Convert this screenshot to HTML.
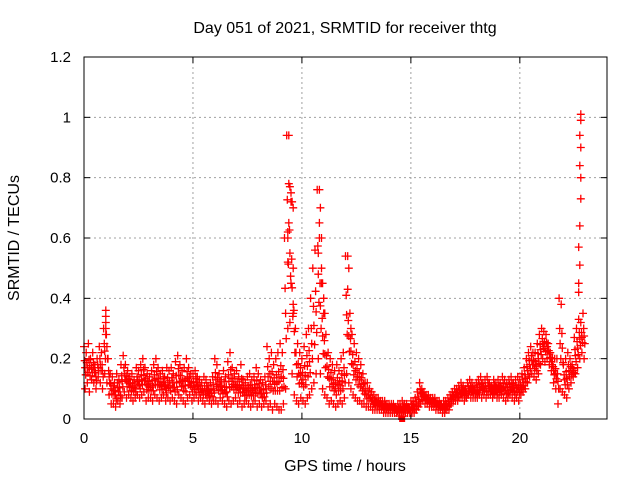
<!DOCTYPE html>
<html><head><meta charset="utf-8"><style>
body{margin:0;background:#fff}
svg{display:block;font-family:"Liberation Sans",sans-serif}
</style></head><body>
<svg id="chart" width="640" height="480">
<text x="345" y="33" font-size="16" text-anchor="middle">Day 051 of 2021, SRMTID for receiver thtg</text>
<text x="345" y="471" font-size="16" text-anchor="middle">GPS time / hours</text>
<text transform="translate(19,238) rotate(-90)" font-size="16" text-anchor="middle">SRMTID / TECUs</text>
<g id="grid"></g>
<g id="ticks"></g>
<g id="pts"></g>
<rect x="84" y="57" width="523" height="362" fill="none" stroke="#000"/>
</svg>
<script>
const xTicks=[0,5,10,15,20];
const yTicks=[0,0.2,0.4,0.6,0.8,1,1.2];
const yTickLabels=["0","0.2","0.4","0.6","0.8","1","1.2"];
const hiVals=[.24,.22,.25,.2,.22,.18,.2,.24,.22,.3,
.36,.2,.15,.14,.12,.15,.13,.18,.21,.18,
.16,.14,.15,.13,.17,.16,.18,.2,.17,.15,
.14,.16,.18,.2,.17,.15,.16,.14,.17,.16,
.17,.15,.19,.21,.18,.16,.17,.2,.17,.15,
.15,.16,.14,.13,.12,.14,.13,.11,.12,.14,
.2,.18,.15,.13,.16,.14,.19,.22,.17,.15,
.16,.14,.18,.13,.12,.14,.15,.13,.14,.17,
.15,.13,.12,.14,.24,.2,.22,.18,.2,.22,
.25,.22,.6,.94,.78,.72,.5,.3,.25,.22,
.2,.24,.28,.3,.4,.5,.56,.76,.6,.45,
.35,.28,.22,.2,.18,.16,.18,.16,.2,.22,
.54,.43,.35,.28,.25,.22,.2,.18,.15,.12,
.12,.1,.09,.08,.07,.07,.06,.06,.06,.05,
.05,.05,.05,.04,.05,.05,.06,.05,.05,.04,
.06,.06,.07,.09,.12,.1,.09,.08,.08,.07,
.07,.07,.06,.06,.05,.06,.06,.07,.08,.09,
.1,.1,.11,.12,.11,.1,.12,.13,.12,.11,
.12,.13,.14,.12,.13,.14,.12,.11,.13,.12,
.13,.12,.14,.13,.12,.13,.14,.12,.13,.14,
.13,.15,.17,.2,.22,.24,.22,.22,.25,.28,
.3,.29,.28,.25,.22,.2,.2,.2,.4,.38,
.18,.2,.22,.2,.18,.27,.3,.33,.32,.35];
const loVals=[.1,.12,.09,.13,.12,.1,.14,.12,.1,.15,
.12,.08,.05,.05,.04,.06,.05,.07,.09,.07,
.08,.07,.06,.07,.08,.07,.08,.09,.06,.07,
.07,.06,.08,.07,.06,.07,.08,.06,.07,.06,
.07,.06,.05,.08,.07,.06,.05,.07,.08,.06,
.07,.08,.06,.07,.06,.05,.07,.06,.05,.06,
.06,.05,.07,.06,.05,.04,.06,.05,.06,.07,
.05,.06,.04,.05,.06,.05,.04,.05,.06,.04,
.05,.04,.05,.06,.04,.05,.03,.05,.04,.03,
.03,.05,.1,.3,.32,.15,.08,.06,.05,.07,
.06,.05,.07,.08,.1,.12,.15,.2,.15,.1,
.08,.07,.05,.06,.05,.04,.05,.06,.05,.07,
.15,.12,.1,.08,.07,.06,.06,.05,.05,.04,
.04,.04,.03,.03,.03,.03,.03,.02,.02,.02,
.02,.02,.02,.02,.01,.01,.01,.02,.02,.02,
.02,.02,.03,.04,.05,.06,.05,.05,.04,.04,
.04,.03,.03,.03,.02,.02,.03,.03,.05,.06,
.06,.06,.07,.07,.06,.07,.08,.07,.07,.07,
.07,.08,.07,.08,.07,.08,.08,.07,.08,.07,
.07,.08,.07,.06,.07,.08,.07,.06,.07,.06,
.08,.09,.1,.12,.14,.15,.14,.13,.15,.18,
.2,.19,.2,.18,.16,.12,.1,.05,.1,.09,
.08,.07,.1,.12,.14,.15,.17,.2,.22,.2];
const spikeTimes=[1,1,1,1,1,9.4,9.4,9.45,9.5,9.55,9.6,9.4,9.35,9.35,9.5,9.6,9.6,
10.8,10.85,10.8,10.9,10.75,10.9,10.95,11,11.05,12.1,12.15,12.1,12.2,12.25,
22.8,22.8,22.75,22.8,22.75,22.8,22.8,22.75,22.7,22.75,22.7,22.7];
const spikeVals=[.36,.34,.32,.3,.28,.94,.78,.77,.75,.72,.7,.65,.6,.52,.45,.38,.35,
.76,.7,.65,.6,.55,.5,.45,.4,.35,.54,.5,.43,.35,.3,
1.01,.99,.94,.9,.84,.8,.73,.64,.57,.51,.45,.42];
const NS="http://www.w3.org/2000/svg";
const X0=84,X1=607,Y0=419,Y1=57;
function xs(t){return X0+(X1-X0)*t/24;}
function ys(v){return Y0-(Y0-Y1)*v/1.2;}
const grid=document.getElementById('grid'),ticks=document.getElementById('ticks'),pts=document.getElementById('pts');
function mk(tag,attrs,parent){const e=document.createElementNS(NS,tag);for(const k in attrs)e.setAttribute(k,attrs[k]);parent.appendChild(e);return e;}
xTicks.forEach(t=>{
 const x=xs(t);
 if(t>0){const g=mk('line',{x1:x,x2:x,y1:Y0,y2:Y1,stroke:'#a0a0a0','stroke-dasharray':'2,3'},grid);
 
 }
 mk('line',{x1:x,x2:x,y1:Y0,y2:Y0-6,stroke:'#000'},ticks);
 mk('line',{x1:x,x2:x,y1:Y1,y2:Y1+6,stroke:'#000'},ticks);
 const tx=mk('text',{x:x,y:Y0+24,'font-size':15,'text-anchor':'middle'},ticks);
 tx.textContent=String(t);
 
 
});
yTicks.forEach((v,i)=>{
 const y=ys(v);
 if(v>0&&v<1.2){const g=mk('line',{x1:X0,x2:X1,y1:y,y2:y,stroke:'#a0a0a0','stroke-dasharray':'2,3'},grid);
 
 }
 mk('line',{x1:X0,x2:X0+6,y1:y,y2:y,stroke:'#000'},ticks);
 mk('line',{x1:X1,x2:X1-6,y1:y,y2:y,stroke:'#000'},ticks);
 const tx=mk('text',{x:X0-13,y:y+5,'font-size':15,'text-anchor':'end'},ticks);
 tx.textContent=yTickLabels[i];
 
 
});
let d='';
function plus(t,v){const x=xs(t),y=ys(v);d+=`M${(x-4).toFixed(1)} ${y.toFixed(1)}h8M${x.toFixed(1)} ${(y-4).toFixed(1)}v8`;}
hiVals.forEach((v,i)=>plus(i*0.1,v));
loVals.forEach((v,i)=>plus(i*0.1+0.05,v));
hiVals.forEach((v,i)=>plus(i*0.1+0.05,(v+loVals[i])/2));
hiVals.forEach((v,i)=>plus(i*0.1+0.03,(2*v+loVals[i])/3));
loVals.forEach((v,i)=>plus(i*0.1+0.08,(2*v+hiVals[i])/3));
spikeTimes.forEach((t,i)=>plus(t,spikeVals[i]));
const p=mk('path',{d:d,stroke:'#ff0000','stroke-width':1.3,fill:'none'},pts);


const sq=mk('rect',{x:xs(14.6)-3,y:ys(0)-3,width:6,height:6,fill:'#ff0000'},pts);


</script>
</body></html>
